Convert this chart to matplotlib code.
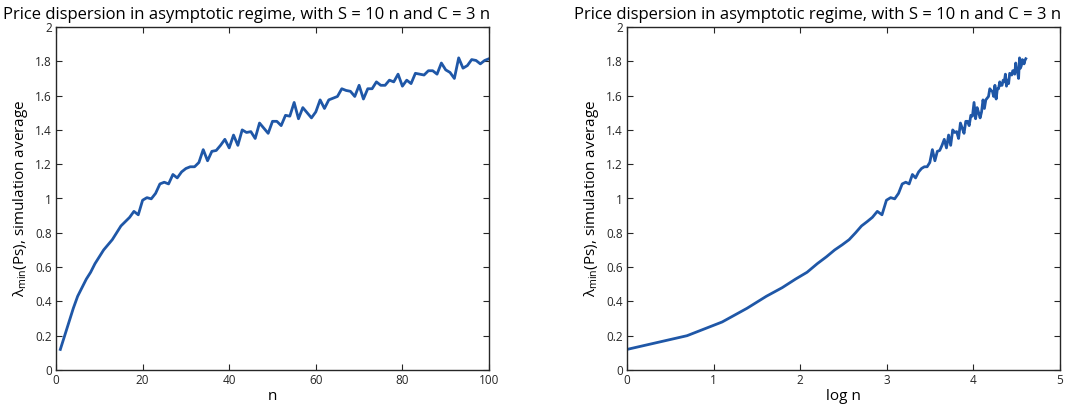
import numpy as np
import matplotlib
matplotlib.use('Agg')
import matplotlib.pyplot as plt

plt.rcParams['font.family'] = ['Open Sans', 'DejaVu Sans']
plt.rcParams['mathtext.fontset'] = 'custom'
plt.rcParams['mathtext.rm'] = 'Open Sans'

# simulation averages for n = 1..100
n = np.arange(1, 101)
lam = [0.12, 0.20, 0.28, 0.36, 0.43, 0.48, 0.53, 0.57, 0.62, 0.66,
       0.70, 0.73, 0.76, 0.80, 0.84, 0.865, 0.89, 0.925, 0.905, 0.99,
       1.005, 0.998, 1.03, 1.085, 1.095, 1.085, 1.14, 1.12, 1.155, 1.175,
       1.185, 1.185, 1.21, 1.285, 1.22, 1.275, 1.28, 1.31, 1.345, 1.295,
       1.37, 1.31, 1.40, 1.385, 1.39, 1.35, 1.44, 1.41, 1.38, 1.45,
       1.45, 1.425, 1.485, 1.48, 1.56, 1.465, 1.53, 1.50, 1.47, 1.505,
       1.575, 1.525, 1.575, 1.585, 1.595, 1.64, 1.63, 1.625, 1.595, 1.66,
       1.58, 1.64, 1.64, 1.68, 1.66, 1.66, 1.69, 1.68, 1.725, 1.655,
       1.69, 1.67, 1.73, 1.725, 1.72, 1.745, 1.745, 1.725, 1.79, 1.75,
       1.735, 1.70, 1.82, 1.76, 1.775, 1.81, 1.805, 1.785, 1.805, 1.815]

title = 'Price dispersion in asymptotic regime, with S = 10 n and C = 3 n'
ylab = r'$\mathregular{\lambda_{min}}$(Ps), simulation average'
color = '#1f57a7'

fig = plt.figure(figsize=(10.71, 4.15), dpi=100)
ax1 = fig.add_axes([56/1071, 45/415, 433/1071, 343/415])
ax2 = fig.add_axes([627/1071, 45/415, 433/1071, 343/415])

panels = [(ax1, n, 'n', [0, 100], [0, 20, 40, 60, 80, 100]),
          (ax2, np.log(n), 'log n', [0, 5], [0, 1, 2, 3, 4, 5])]

for ax, x, xlab, xlim, xt in panels:
    ax.plot(x, lam, color=color, lw=2)
    ax.set_xlim(xlim)
    ax.set_ylim(0, 2)
    ax.set_xticks(xt)
    ax.set_yticks(np.arange(0, 2.01, 0.2))
    ax.set_yticklabels(['0', '0.2', '0.4', '0.6', '0.8', '1',
                        '1.2', '1.4', '1.6', '1.8', '2'])
    ax.tick_params(direction='in', top=True, right=True, length=4,
                   labelsize=8.5, colors='#262626', width=0.8, pad=3)
    for s in ax.spines.values():
        s.set_color('#262626')
        s.set_linewidth(1)
    ax.set_xlabel(xlab, fontsize=11, labelpad=1)
    ax.set_ylabel(ylab, fontsize=11, labelpad=4)
    ax.set_title(title, fontsize=12, x=0.44, pad=6)

plt.savefig('out.png', dpi=100)
